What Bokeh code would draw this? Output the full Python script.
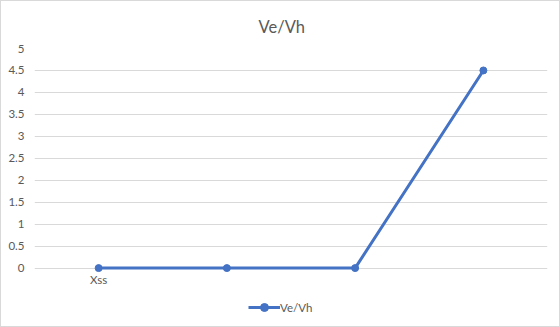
from bokeh.plotting import figure
from bokeh.layouts import column
from bokeh.models import Range1d, FixedTicker, Legend, LegendItem
from bokeh.embed import file_html
from bokeh.resources import INLINE

categories = ["Xss", "", "", ""]
values = [0, 0, 0, 4.5]
y_ticks = [0, 0.5, 1, 1.5, 2, 2.5, 3, 3.5, 4, 4.5, 5]
y_tick_labels = ["0", "0.5", "1", "1.5", "2", "2.5", "3", "3.5", "4", "4.5", "5"]
series_name = "Ve/Vh"

FONT = "Lato"
GRAY = "#595959"
BLUE = "#4472C4"

xs = list(range(len(categories)))

p = figure(width=558, height=295, output_backend="svg", toolbar_location=None,
           x_range=Range1d(-0.5, len(categories) - 0.5), y_range=Range1d(-0.1, 5),
           min_border_left=33, min_border_right=12, min_border_top=47, min_border_bottom=24)
p.outline_line_color = None
p.background_fill_color = "white"
p.border_fill_color = "white"

p.title.text = series_name
p.title.align = "left"
p.title.offset = 224
p.title.text_font = FONT
p.title.text_font_size = "16.5px"
p.title.text_font_style = "normal"
p.title.text_color = GRAY
p.title.standoff = 24

line = p.line(xs, values, line_color=BLUE, line_width=3)
pts = p.scatter(xs, values, size=7, fill_color=BLUE, line_color=BLUE)

p.xaxis.ticker = FixedTicker(ticks=xs)
p.xaxis.major_label_overrides = {i: c for i, c in enumerate(categories)}
p.yaxis.ticker = FixedTicker(ticks=y_ticks)
p.yaxis.major_label_overrides = {t: l for t, l in zip(y_ticks, y_tick_labels)}
for ax in (p.xaxis, p.yaxis):
    ax.axis_line_color = None
    ax.major_tick_line_color = None
    ax.minor_tick_line_color = None
    ax.major_tick_out = 0
    ax.major_tick_in = 0
    ax.minor_tick_out = 0
    ax.minor_tick_in = 0
    ax.major_label_text_font = FONT
    ax.major_label_text_font_size = "11.5px"
    ax.major_label_text_color = GRAY
p.yaxis.major_label_standoff = 10
p.xaxis.major_label_standoff = 0

p.xgrid.grid_line_color = None
p.ygrid.ticker = FixedTicker(ticks=y_ticks)
p.ygrid.grid_line_color = "#d9d9d9"
p.ygrid.grid_line_width = 1

# legend strip below the chart (borders match the chart so the column keeps its frame)
lg = figure(width=558, height=30, output_backend="svg", toolbar_location=None,
            x_range=Range1d(0, 1), y_range=Range1d(0, 1),
            min_border_left=33, min_border_right=12, min_border_top=0, min_border_bottom=0)
lg.axis.visible = False
lg.grid.visible = False
lg.outline_line_color = None
lg.border_fill_color = "white"
lg_line = lg.line([5, 6], [5, 6], line_color=BLUE, line_width=3)
lg_pts = lg.scatter([5], [5], size=7, fill_color=BLUE, line_color=BLUE)
legend = Legend(items=[LegendItem(label=series_name, renderers=[lg_line, lg_pts])],
                location=(214, 9), orientation="horizontal")
legend.border_line_color = None
legend.background_fill_alpha = 0
legend.label_text_font = FONT
legend.label_text_font_size = "11.5px"
legend.label_text_color = GRAY
legend.glyph_width = 32
legend.label_standoff = 0
legend.padding = 4
legend.margin = 0
lg.add_layout(legend)

layout = column(p, lg, spacing=0)
layout.styles = {"border": "1px solid #d9d9d9", "background-color": "white"}

open("out.html", "w").write(file_html(layout, INLINE))
